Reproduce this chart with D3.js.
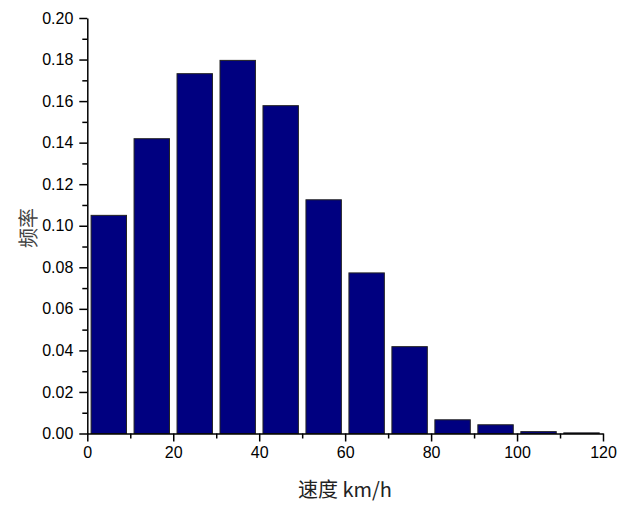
<!DOCTYPE html>
<html>
<head>
<meta charset="utf-8">
<script src="https://cdn.jsdelivr.net/npm/d3@7"></script>
<style>
  body { margin: 0; background: #fff; }
</style>
</head>
<body>
<script>
// bins (km/h) and frequencies
const binStart = [0, 10, 20, 30, 40, 50, 60, 70, 80, 90, 100, 110]
const freq = [0.105, 0.1419, 0.1732, 0.1796, 0.1578, 0.1125, 0.0773, 0.0418, 0.0066, 0.0042, 0.0009, 0.0003]
const xTicks = [0, 20, 40, 60, 80, 100, 120]
const yTicks = [0, 0.02, 0.04, 0.06, 0.08, 0.10, 0.12, 0.14, 0.16, 0.18, 0.20]

const width = 622, height = 505
const margin = {top: 18, right: 19, bottom: 71.5, left: 87.3}
const innerwidth = width - margin.left - margin.right
const innerheight = height - margin.top - margin.bottom

const data = binStart.map((b, i) => ({x0: b, x1: b + 10, f: freq[i]}))

const svg = d3.select("body").append("svg")
    .attr("width", width)
    .attr("height", height)

const g = svg.append("g")
    .attr("transform", `translate(${margin.left},${margin.top})`)

const xScale = d3.scaleLinear().domain([0, 120]).range([0, innerwidth])
const yScale = d3.scaleLinear().domain([0, 0.2]).range([innerheight, 0])

// bars
const pad = 0.88
g.selectAll("rect").data(data)
  .enter().append("rect")
    .attr("x", d => xScale(d.x0 + pad))
    .attr("width", d => xScale(d.x1 - pad) - xScale(d.x0 + pad))
    .attr("y", d => yScale(d.f))
    .attr("height", d => yScale(0) - yScale(d.f))
    .attr("fill", "#000080")
    .attr("stroke", "#222")
    .attr("stroke-width", 1)

// minor ticks
g.append("g")
    .attr("transform", `translate(0,${innerheight})`)
    .call(d3.axisBottom(xScale).tickValues(d3.range(10, 120, 20)).tickSize(5).tickFormat(""))
    .call(a => a.select(".domain").remove())
    .call(a => a.selectAll("line").attr("stroke-width", 1.5))

g.append("g")
    .call(d3.axisLeft(yScale).tickValues(d3.range(0.01, 0.2, 0.02)).tickSize(5).tickFormat(""))
    .call(a => a.select(".domain").remove())
    .call(a => a.selectAll("line").attr("stroke-width", 1.5))

// major axes
const xAxisG = g.append("g")
    .attr("transform", `translate(0,${innerheight})`)
    .call(d3.axisBottom(xScale).tickValues(xTicks).tickSize(8).tickSizeOuter(0).tickPadding(5))
xAxisG.select(".domain").attr("stroke-width", 1.5)
xAxisG.selectAll(".tick line").attr("stroke-width", 1.5)

const yAxisG = g.append("g")
    .call(d3.axisLeft(yScale).tickValues(yTicks).tickSize(8).tickSizeOuter(0).tickPadding(6).tickFormat(d3.format(".2f")))
yAxisG.select(".domain").attr("stroke-width", 1.5)
yAxisG.selectAll(".tick line").attr("stroke-width", 1.5)

svg.selectAll(".tick text")
    .style("font-family", "'Liberation Sans', Arial, sans-serif")
    .style("font-size", "16px")
    .attr("fill", "#000")

// axis labels
svg.append("text")
    .attr("x", 345)
    .attr("y", 497)
    .attr("text-anchor", "middle")
    .style("font-family", "'Noto Sans CJK SC', 'Liberation Sans', sans-serif")
    .style("font-size", "20px")
    .attr("fill", "#222")
    .text("速度 km/h")

svg.append("text")
    .attr("transform", "translate(36,228) rotate(-90)")
    .attr("text-anchor", "middle")
    .style("font-family", "'Noto Sans CJK SC', sans-serif")
    .style("font-size", "20px")
    .attr("fill", "#444")
    .text("频率")
</script>
</body>
</html>
